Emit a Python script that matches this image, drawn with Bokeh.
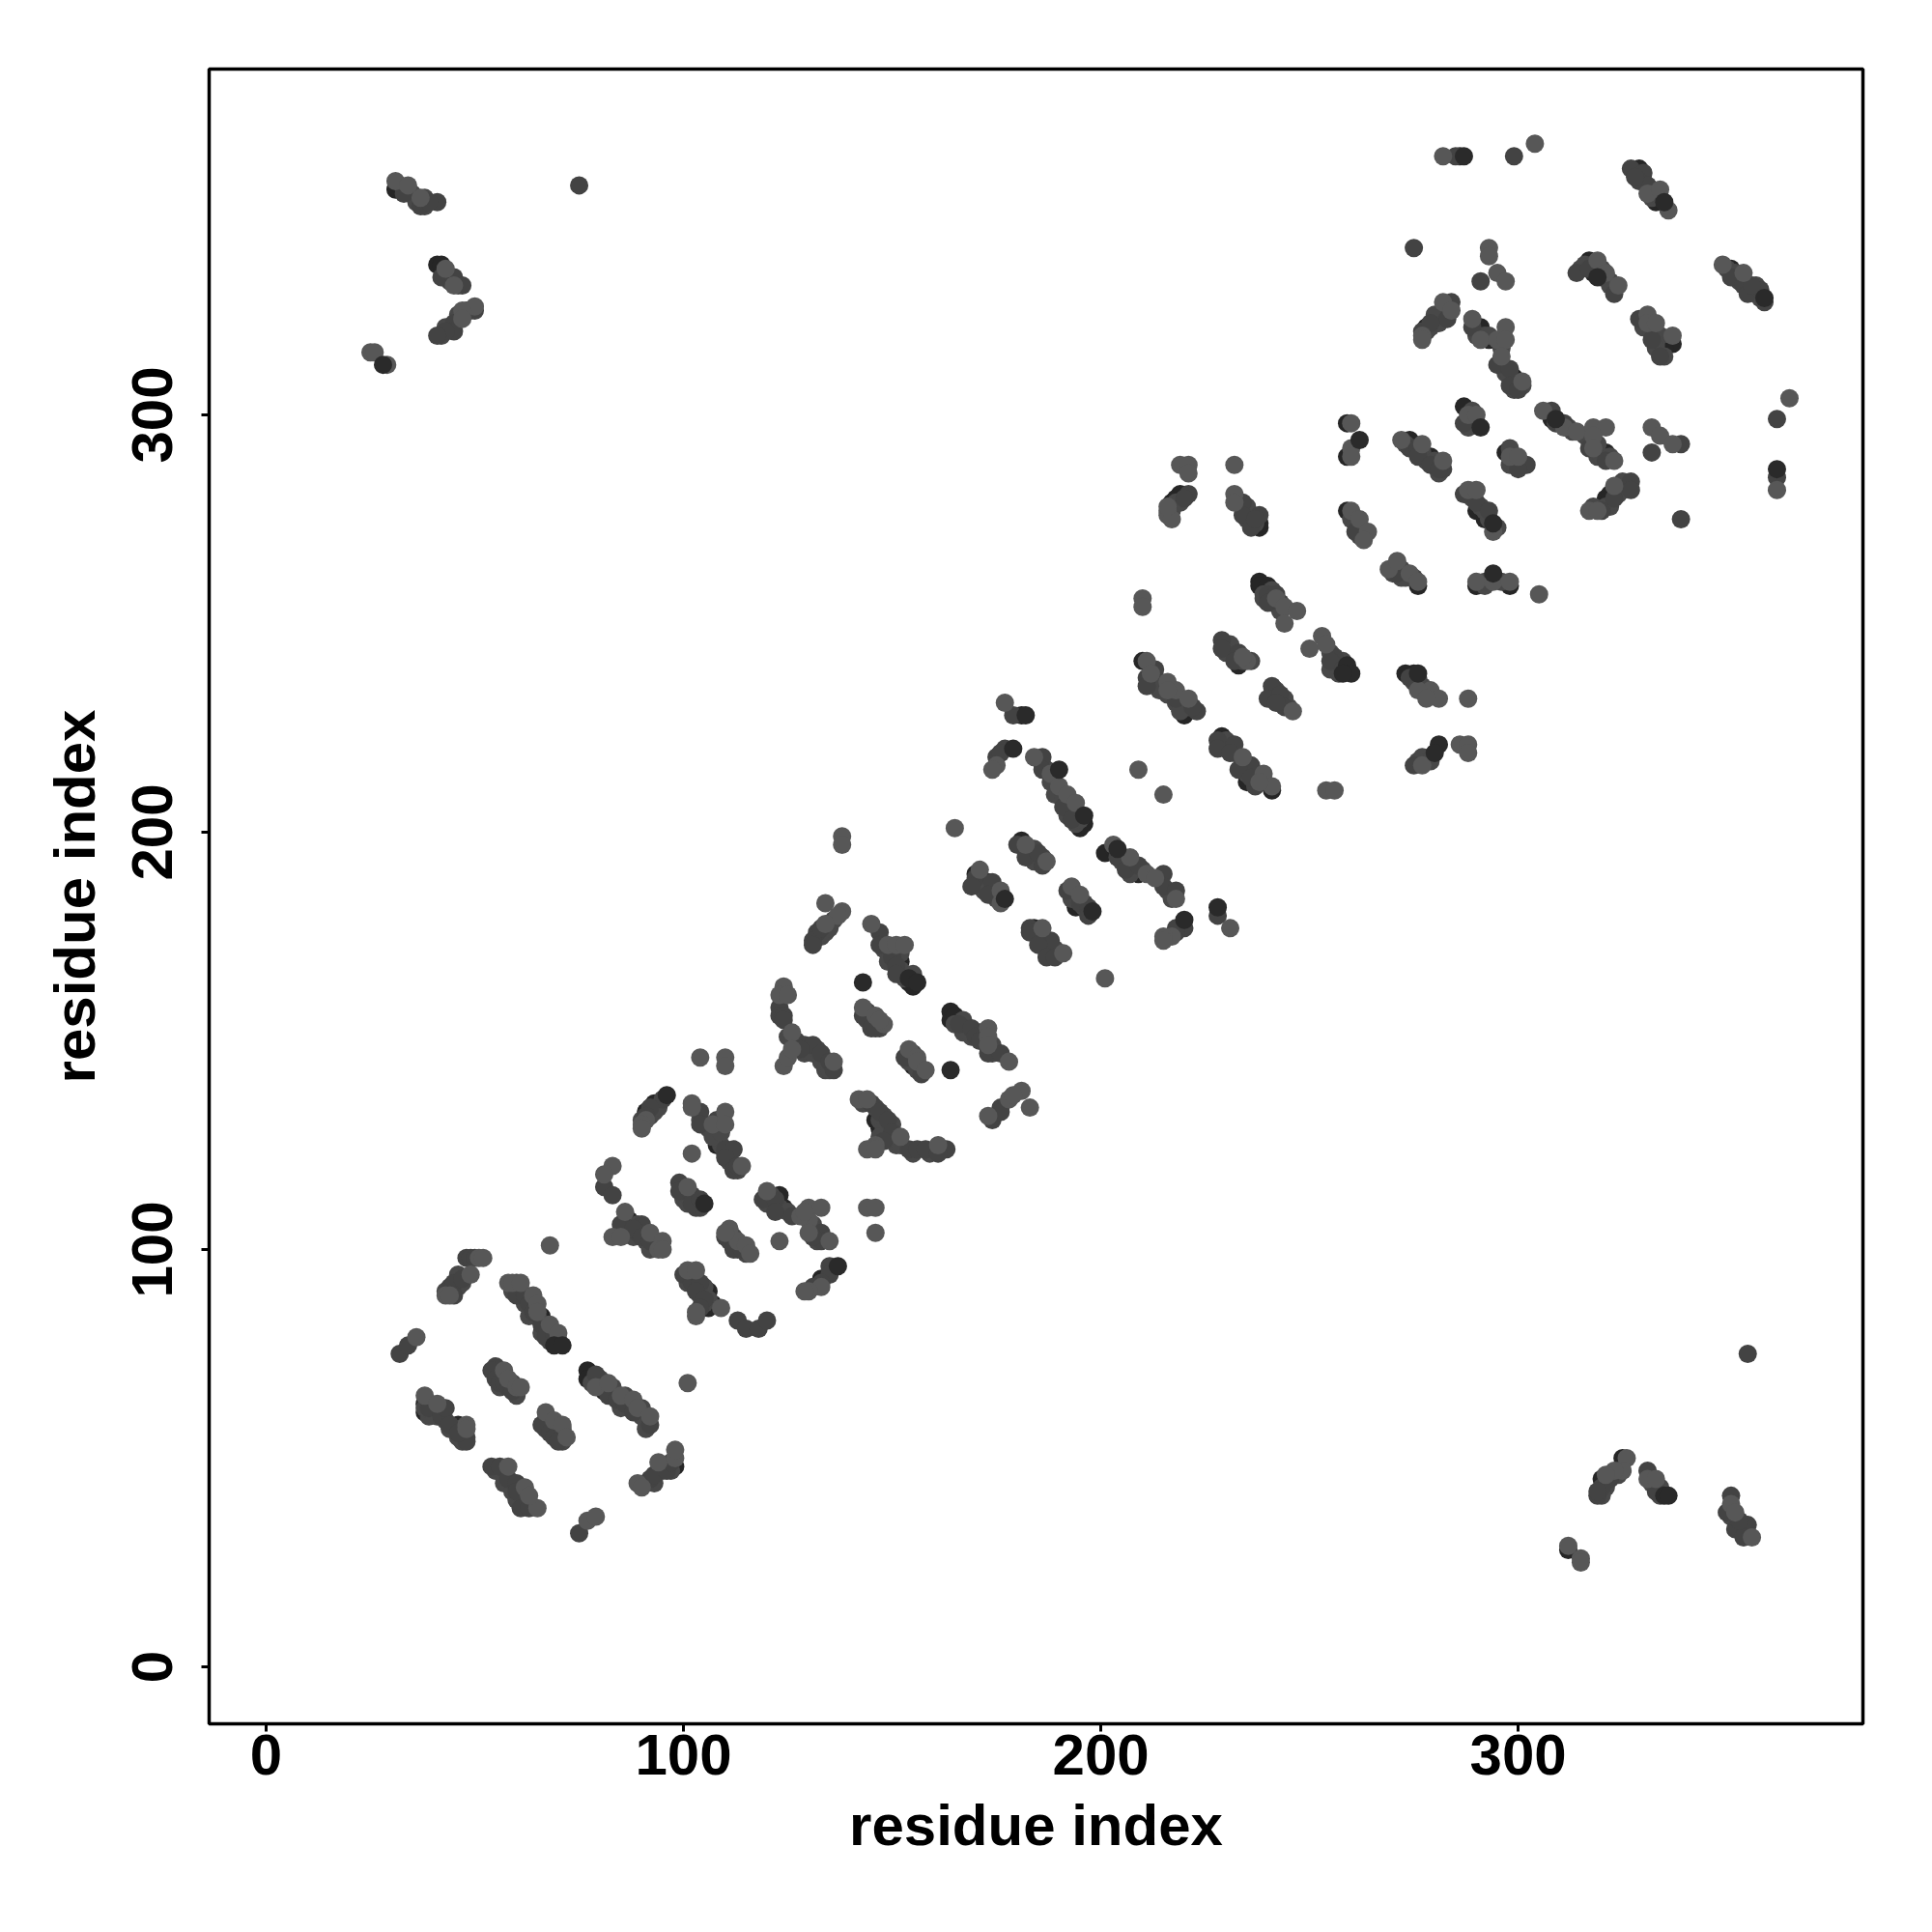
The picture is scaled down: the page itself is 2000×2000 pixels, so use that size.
from bokeh.plotting import figure
from bokeh.models import FixedTicker, Range1d
from bokeh.embed import file_html
from bokeh.resources import INLINE

tick_values = [0, 100, 200, 300]
axis_title = "residue index"

# contacts, (residue i, residue j), grouped by grey level
contacts_weak = [
(36,79),(43,89),(44,89),(49,94),(51,98),(52,98),(58,92),(59,92),(61,92),(64,89),(65,87),(65,85),(68,82),(70,80),
(57,71),(58,69),(60,67),(61,67),(38,65),(41,63),(48,58),(48,57),(67,61),(69,59),(71,58),(72,55),(79,67),(82,68),(85,65),(88,64),(89,62),(92,60),
(101,68),(58,48),(62,43),(65,38),(63,41),(77,35),(79,36),(89,44),(90,43),(94,49),(98,50),(98,52),(68,101),
(86,109),(83,103),(85,103),(92,104),(95,102),(94,100),(95,100),(111,105),(113,102),(115,101),(116,99),(110,104),(123,102),
(101,95),(103,95),(109,86),(103,84),(103,85),(133,91),(130,90),(129,90),(91,131),(90,130),(90,129),
(102,135),(102,134),(107,130),(110,133),(110,130),(114,120),(102,123),(83,120),(81,118),(101,115),
(120,114),(130,110),(133,110),(130,107),(130,104),(135,102),(128,108),(129,109),
(104,146),(110,146),(110,144),(124,163),(123,161),(125,161),(126,152),(136,145),(124,144),(125,146),(126,148),
(143,158),(146,156),(148,154),(147,155),(173,153),(173,151),(173,149),(178,145),(154,148),(156,146),(156,145),(158,143),
(181,138),(183,134),(178,136),(173,132),(179,137),(142,136),(144,136),(152,127),(146,125),(144,124),(146,124),(161,125),(144,110),(146,110),(146,104),
(138,199),(138,197),(165,201),(177,231),(175,216),(174,215),(184,218),(188,214),(190,211),(192,209),(194,207),(182,197),(187,193),
(171,191),(176,186),(176,183),(203,197),(207,194),(211,190),(218,184),(213,189),(193,187),(195,185),(186,177),(191,171),(201,165),
(217,175),(215,175),(215,174),(231,177),(209,215),(215,209),(134,183),(138,181),(137,180),(134,178),(145,178),(149,173),(151,173),(153,173),
(211,241),(216,236),(218,234),(221,232),(216,234),(212,238),(210,256),(210,254),(219,288),(221,288),(221,286),(232,288),(216,277),(216,276),(217,275),(216,278),
(232,281),(232,279),(242,256),(244,254),(247,253),(244,250),(235,241),(234,242),(253,247),(250,244),(254,245),(246,229),(234,218),(239,214),(241,211),(238,212),
(254,210),(256,210),(279,234),(276,234),(281,232),(278,232),(288,232),(277,216),(286,221),(288,221),(288,219),(260,298),(260,292),(260,290),
(272,294),(277,293),(282,289),(298,290),(300,290),(260,277),(262,275),(264,272),(263,270),(269,263),(271,265),(274,262),(276,260),
(288,282),(290,282),(294,272),(290,260),(294,260),(298,260),(305,257),(288,300),(290,300),(306,301),(311,297),(314,296),
(282,362),(304,365),(331,353),(334,354),(336,349),(293,340),(293,338),(295,334),(297,332),(319,337),(321,334),(324,331),
(349,336),(354,334),(282,327),(284,325),(277,319),(277,318),(289,323),(291,318),(295,318),(297,321),(297,318),(296,314),(301,308),
(331,324),(331,322),(333,322),(337,319),(318,297),(321,297),(318,295),(318,292),(323,289),(332,297),(334,295),(337,293),(365,304),(362,282),
(323,283),(317,277),(319,277),(312,29),(315,26),(315,25),(326,50),(325,47),(323,47),(321,46),(331,45),(333,45),(351,39),(352,37),(356,31),
(31,356),(34,355),(37,352),(45,331),(43,335),(50,326),(47,325),(47,323),(25,315),(26,315),(29,312),
]
contacts_mid = [
(32,75),(34,77),(44,90),(44,91),(45,92),(47,93),(45,89),(48,98),(49,98),(50,98),(60,92),(60,89),(62,89),(63,87),(64,85),(66,82),(67,79),(69,80),
(55,72),(54,71),(55,69),(56,68),(57,68),(58,67),(59,66),(39,62),(42,60),(43,62),(44,58),(48,55),(48,54),(46,56),
(66,58),(68,56),(69,55),(71,57),(70,54),(79,70),(82,65),(84,64),(86,63),(88,61),(92,58),
(54,48),(56,48),(58,45),(60,44),(60,42),(61,38),(63,38),(75,32),(92,45),(93,46),(96,47),(97,49),
(85,106),(90,106),(89,104),(88,105),(90,103),(92,102),(94,101),(110,103),(111,102),(112,100),(114,100),
(100,94),(102,92),(104,92),(103,90),(105,88),(104,86),(113,83),(115,81),(118,81),(120,83),(135,96),(135,94),(133,92),(131,91),
(95,136),(92,134),(91,132),(104,133),(104,130),(108,131),(110,124),(112,124),(110,122),(112,119),(113,120),(81,115),(83,113),
(99,116),(99,114),(102,113),(103,110),(102,111),(104,112),(119,112),(122,112),(122,109),(126,108),(133,104),(133,102),(131,103),
(123,158),(123,156),(124,156),(124,155),(127,150),(129,149),(131,149),(133,147),(135,145),(136,143),(128,148),
(143,156),(145,153),(146,153),(166,154),(169,153),(170,151),(173,147),(176,147),(171,150),(153,146),(157,142),
(176,134),(174,131),(176,133),(145,135),(147,133),(149,131),(150,128),(148,126),(154,124),(156,124),(158,124),(163,124),(161,123),
(179,228),(177,220),(175,218),(176,219),(186,218),(186,215),(191,206),(193,203),(180,197),(182,194),(185,195),(186,192),
(170,189),(169,187),(174,188),(173,185),(204,194),(206,191),(209,192),(215,190),(215,187),(218,186),(192,186),(195,183),(197,182),(197,180),
(183,177),(183,176),(188,174),(185,173),(187,170),(189,170),(220,177),(218,176),(218,177),(228,180),(132,176),(131,174),(131,173),(133,177),
(147,176),(147,173),(150,170),(151,168),(151,166),(213,239),(211,237),(211,235),(218,232),(223,229),(222,230),
(221,281),(220,280),(234,279),(234,276),(238,276),(236,273),(237,275),(240,257),(242,257),(240,255),(243,255),
(229,246),(229,244),(233,243),(232,241),(256,242),(255,241),(258,239),(241,235),(240,232),(243,233),(244,230),(242,231),
(228,222),(228,220),(232,221),(231,219),(236,216),(233,215),(237,211),(236,213),(274,237),(275,216),
(274,292),(276,292),(276,290),(279,288),(282,287),(281,287),(302,288),(300,287),(261,272),(271,262),(287,281),(290,279),(293,277),
(287,298),(308,301),(311,298),(309,298),(285,362),(299,362),(327,359),(330,358),(329,356),(331,355),(328,357),(275,340),(291,332),
(314,334),(317,335),(323,329),(351,333),(354,331),(355,329),(358,330),(359,327),(356,331),(284,327),(283,323),(277,320),(279,322),
(289,321),(295,312),(298,311),(298,307),(300,306),(329,323),(332,318),(334,314),(317,292),(321,289),(339,293),(332,291),(339,275),(362,299),(362,285),
(327,284),(327,282),(323,280),(320,277),(355,75),(322,45),(320,43),(319,41),(319,42),(331,47),(333,42),(351,41),(350,37),(352,33),(355,34),(354,31),(353,35),
(33,353),(37,350),(41,351),(39,351),(75,355),(42,333),(45,333),(47,331),(50,325),(45,322),(45,320),(43,320),(41,319),
]
contacts_fill = [
(59,90),(61,90),(62,87),(64,87),(65,84),(63,84),(67,82),(66,80),(68,79),(68,78),(40,61),(41,60),(43,59),(44,57),(46,57),(47,54),(46,55),(39,60),(38,62),
(56,70),(58,68),(59,68),(56,67),(60,65),(67,59),(68,58),(70,57),(71,54),(67,57),(78,68),(80,69),(81,67),(83,65),(83,67),(86,65),(85,62),(87,62),(90,60),(90,62),(91,57),
(55,47),(57,44),(59,42),(62,40),(60,40),(63,39),(91,44),(95,47),(93,44),(97,47),(46,91),(47,92),(43,90),(46,94),(88,103),(86,104),(89,106),(91,102),(93,101),(92,100),
(111,103),(112,103),(113,100),(115,99),(101,92),(102,94),(105,91),(104,89),(106,88),(105,87),(120,111),(121,113),(123,110),(125,109),(131,106),(132,102),(131,105),
(125,151),(127,149),(129,147),(131,147),(133,145),(132,148),(134,143),(135,143),(144,155),(145,155),(147,153),(144,157),(165,154),(167,152),(167,155),(169,151),(171,152),(174,149),(174,147),(172,150),
(154,147),(155,147),(156,143),(154,145),(143,135),(146,134),(148,132),(147,131),(148,129),(150,130),(149,127),(151,125),(152,125),(155,123),(159,123),(147,127),
(92,132),(93,133),(94,134),(90,131),(104,131),(106,129),(109,125),(110,123),(111,121),(113,119),(107,127),(109,128),(100,112),(101,111),(103,112),(104,110),(101,113),
(186,216),(187,215),(188,212),(189,209),(191,208),(192,204),(193,206),(194,202),(195,203),(182,196),(183,194),(184,196),(186,194),(184,193),
(171,188),(172,186),(175,186),(174,185),(175,184),(171,187),(205,193),(207,192),(210,191),(207,190),(216,186),(217,184),(194,184),(196,183),(196,182),(193,184),
(185,176),(186,175),(187,173),(187,172),(189,172),(188,171),(133,175),(134,176),(135,177),(136,179),(148,172),(150,171),(152,171),(149,169),(152,167),(153,165),(155,166),
(212,236),(214,234),(216,233),(218,231),(220,230),(221,230),(219,229),(213,237),(218,279),(217,277),(219,279),(235,278),(236,275),(237,274),(235,275),
(241,258),(239,257),(241,255),(243,253),(239,256),(231,243),(231,245),(234,241),(230,243),(236,241),(255,243),(255,239),(257,241),(257,238),(258,241),
(241,233),(243,231),(244,232),(245,230),(242,234),(230,220),(230,222),(232,219),(234,216),(235,215),(237,214),(238,213),(235,214),(275,236),(277,235),(278,233),(279,233),(276,237),(277,218),(276,217),(279,217),
(275,292),(277,291),(278,289),(280,289),(280,288),(281,286),(273,293),(298,288),(299,289),(301,288),(298,292),(260,275),(262,273),(263,272),(261,274),(262,271),
(270,262),(272,263),(273,261),(275,261),(272,261),(289,280),(291,278),(292,277),(293,275),(295,273),(292,259),(296,260),(292,260),(289,298),(289,301),(290,298),(288,297),
(310,298),(312,297),(313,296),(316,295),(317,294),(319,293),(319,290),(320,290),(322,290),(329,357),(332,354),(332,352),(334,352),(330,356),(333,353),
(315,335),(316,336),(318,336),(320,335),(320,333),(322,332),(323,330),(322,331),(350,335),(352,334),(353,332),(355,331),(357,329),(358,328),(357,331),
(279,321),(281,322),(283,324),(280,324),(278,320),(290,319),(292,319),(293,319),(296,316),(296,312),(297,310),(299,307),(299,306),(301,307),(298,309),
(330,321),(332,320),(334,319),(333,317),(335,314),(333,316),(322,278),(324,281),(325,282),(325,284),(321,278),(318,278),
(321,43),(321,44),(324,47),(324,46),(320,41),(332,44),(334,43),(334,41),(354,33),(353,33),(351,36),
(33,354),(35,353),(36,351),(38,350),(38,352),(43,334),(44,332),(46,331),(46,323),(46,324),(48,325),(49,325),(42,319),(43,321),
]
contacts_strong = [
(46,93),(66,84),(70,78),(38,61),(38,63),(46,58),(45,57),(77,71),(77,69),(80,68),(81,66),(57,46),(59,44),(61,41),(61,39),(98,48),
(87,107),(86,105),(106,90),(107,87),(106,86),(133,93),(93,135),(91,133),(108,126),(108,125),(111,123),(100,113),(121,111),(123,113),(124,110),
(134,145),(144,156),(164,157),(164,155),(165,156),(168,152),(155,144),(146,131),(147,129),(181,228),(190,209),(195,201),(196,202),(181,198),
(170,190),(173,188),(201,195),(203,196),(209,190),(194,182),(184,177),(190,171),(152,169),(154,164),(155,163),(210,241),(214,236),(220,228),
(219,281),(217,279),(218,280),(238,273),(238,274),(238,260),(238,259),(240,259),(230,245),(233,240),(257,239),(229,223),(235,212),(241,210),
(275,238),(273,238),(278,217),(279,218),(259,298),(259,290),(274,294),(279,290),(297,291),(299,288),(259,277),(276,259),(290,277),(292,275),
(290,259),(298,259),(287,302),(288,299),(309,299),(286,362),(329,359),(333,351),(317,337),(318,334),(351,335),(280,323),(278,321),(291,321),(293,318),(299,309),
(335,318),(337,317),(335,316),(308,299),(321,291),(321,280),(322,281),(312,28),(325,50),(320,45),(353,34),(31,354),(32,355),(41,336),(42,336),(44,321),
]
contacts_front = [
(69,77),(71,77),(96,137),(137,96),(105,111),(143,164),(164,143),(182,228),(179,220),(190,215),(196,204),(177,184),(204,196),(198,181),
(220,179),(228,182),(154,165),(156,164),(259,240),(260,238),(258,238),(276,238),(281,221),(280,219),(262,294),(294,274),(294,262),(291,297),
(287,362),(335,351),(319,333),(359,328),(309,299),(362,287),(335,41),(336,41),(28,312),
]

weak_x = [c[0] for c in contacts_weak]
weak_y = [c[1] for c in contacts_weak]
mid_x = [c[0] for c in contacts_mid]
mid_y = [c[1] for c in contacts_mid]
fill_x = [c[0] for c in contacts_fill]
fill_y = [c[1] for c in contacts_fill]
strong_x = [c[0] for c in contacts_strong]
strong_y = [c[1] for c in contacts_strong]
front_x = [c[0] for c in contacts_front]
front_y = [c[1] for c in contacts_front]

p = figure(width=1984, height=1984, output_backend="svg", toolbar_location=None,
           x_range=Range1d(-13.66, 382.6), y_range=Range1d(-13.66, 382.87),
           min_border_left=216, min_border_right=56, min_border_top=71, min_border_bottom=200)
p.grid.visible = False
p.background_fill_color = "white"
p.border_fill_color = "white"
p.outline_line_color = "black"
p.outline_line_width = 3.5

SIZE = 19
p.scatter(strong_x, strong_y, size=SIZE, color="#262626", line_color=None)
p.scatter(fill_x, fill_y, size=SIZE, color="#484848", line_color=None)
p.scatter(mid_x, mid_y, size=SIZE, color="#434343", line_color=None)
p.scatter(weak_x, weak_y, size=SIZE, color="#575757", line_color=None)
p.scatter(front_x, front_y, size=SIZE, color="#2a2a2a", line_color=None)

for ax in (p.xaxis[0], p.yaxis[0]):
    ax.ticker = FixedTicker(ticks=tick_values)
    ax.axis_label = axis_title
    ax.axis_line_color = None
    ax.major_tick_line_color = "black"
    ax.major_tick_line_width = 3
    ax.major_tick_in = 0
    ax.major_tick_out = 8
    ax.minor_tick_line_color = None
    ax.major_label_text_font = "Liberation Sans"
    ax.major_label_text_font_style = "bold"
    ax.major_label_text_font_size = "60px"
    ax.major_label_text_color = "black"
    ax.axis_label_text_font = "Liberation Sans"
    ax.axis_label_text_font_style = "bold"
    ax.axis_label_text_font_size = "60px"
    ax.axis_label_text_color = "black"
p.xaxis[0].major_label_standoff = 3
p.xaxis[0].axis_label_standoff = 16
p.yaxis[0].major_label_orientation = "parallel"
p.yaxis[0].major_label_standoff = 30
p.yaxis[0].axis_label_standoff = 24

open("out.html", "w").write(file_html(p, INLINE))
